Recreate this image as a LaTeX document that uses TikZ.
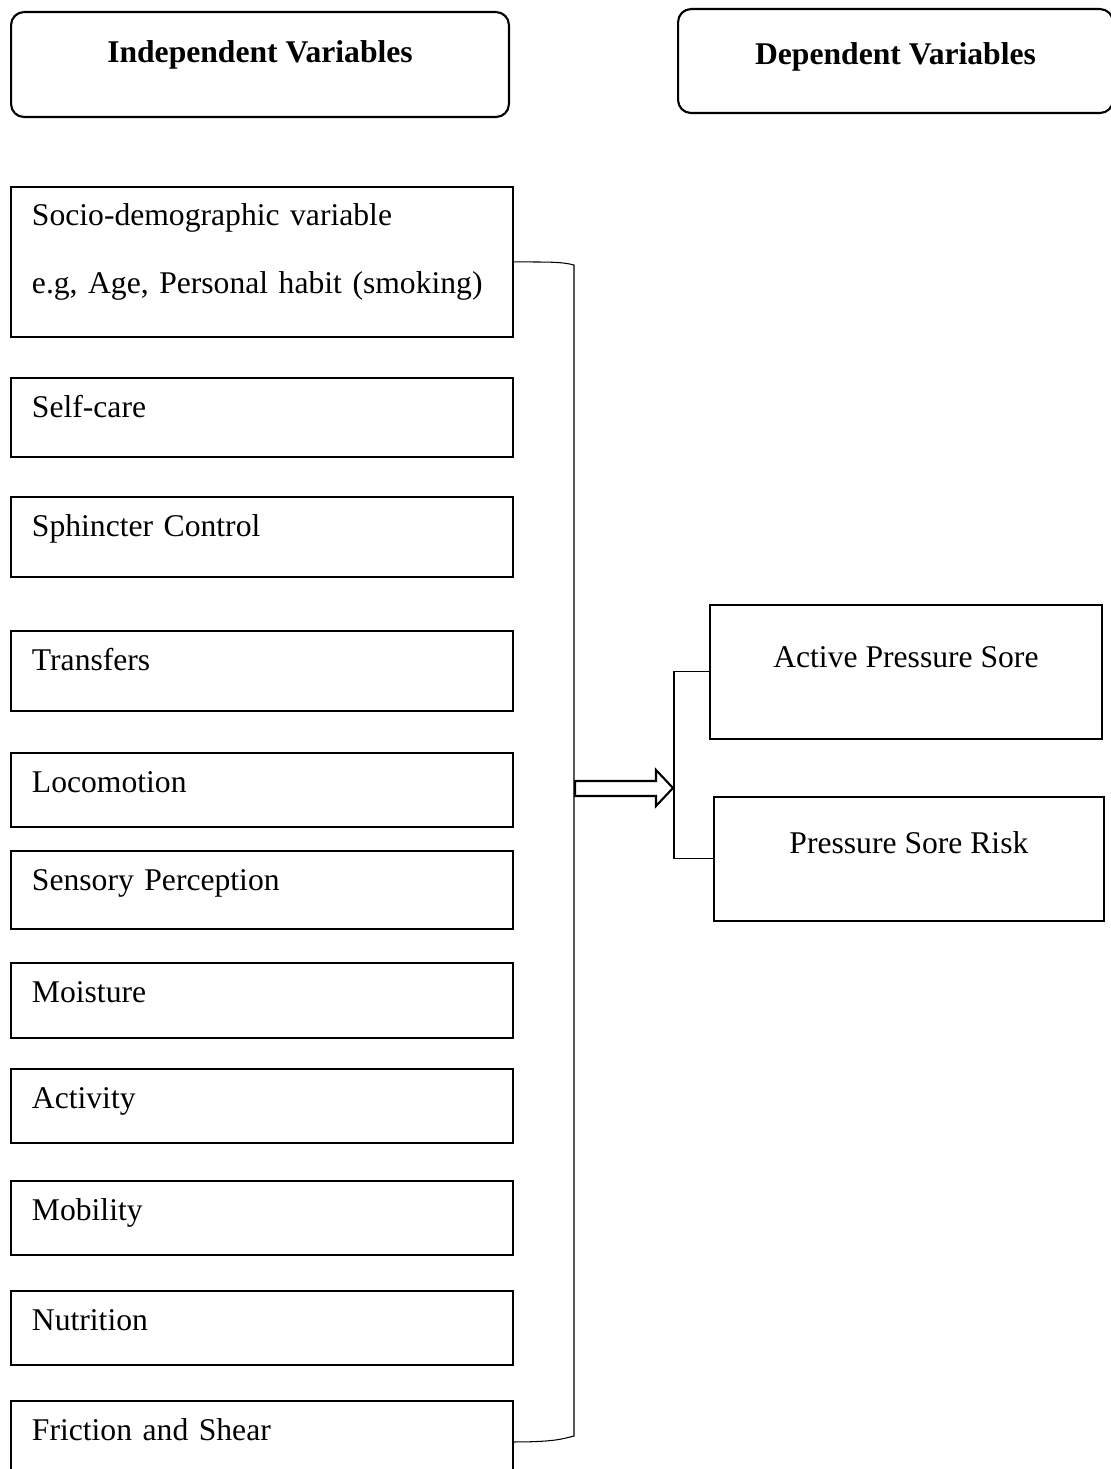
\documentclass[tikz,border=0pt]{standalone}
\usepackage{fontspec}
\setmainfont{Liberation Serif}
\usetikzlibrary{calc,positioning}

\tikzset{
  headbox/.style n args={3}{draw, line width=1.2pt, rounded corners=0.26cm, anchor=north west,
    font=\fontsize{18pt}{22pt}\selectfont\bfseries, inner sep=0pt,
    text height=#1, text depth=#2, minimum width=#3},
  varbox/.style={draw, line width=1.1pt, anchor=north west, align=left,
    text width=9.2cm, inner xsep=0.42cm, inner ysep=0pt, text height=0.8cm, text depth=#1},
  depbox/.style n args={3}{draw, line width=1.1pt, anchor=north west, inner sep=0pt,
    text height=#1, text depth=#2, minimum width=#3},
  bracket/.style={line width=0.6pt},
  blockarrow/.style={line width=1.2pt, fill=white, line join=miter}
}

\begin{document}
\begin{tikzpicture}[x=0.02cm, y=-0.02cm, font=\fontsize{18pt}{22pt}\selectfont]
    \useasboundingbox (0,0) rectangle (1111,1469);

    \node[headbox={1.0cm}{1.1cm}{9.96cm}] (indep) at (10,11) {Independent Variables};
    \node[headbox={1.1cm}{0.98cm}{8.7cm}] (dep) at (677,8) {Dependent Variables};

    % independent variables
    \node[varbox=2.22cm, text height=0.78cm, font=\fontsize{18pt}{38.6pt}\selectfont] (socio) at (10,186)
        {Socio-demographic variable\\e.g, Age, Personal habit (smoking)};
    \node[varbox=0.78cm] (selfcare) at (10,377) {Self-care};
    \node[varbox=0.8cm] (sphincter) at (10,496) {Sphincter Control};
    \node[varbox=0.8cm] (transfers) at (10,630) {Transfers};
    \node[varbox=0.68cm] (locomotion) at (10,752) {Locomotion};
    \node[varbox=0.76cm] (sensory) at (10,850) {Sensory Perception};
    \node[varbox=0.7cm] (moisture) at (10,962) {Moisture};
    \node[varbox=0.68cm] (activity) at (10,1068) {Activity};
    \node[varbox=0.68cm] (mobility) at (10,1180) {Mobility};
    \node[varbox=0.68cm] (nutrition) at (10,1290) {Nutrition};
    \node[varbox=0.84cm] (friction) at (10,1400) {Friction and Shear};

    % dependent variables
    \node[depbox={1.26cm}{1.42cm}{7.84cm}] (active) at (709,604) {Active Pressure Sore};
    \node[depbox={1.14cm}{1.34cm}{7.8cm}] (risk) at (713,796) {Pressure Sore Risk};

    \coordinate (brtop) at (574,265);
    \coordinate (brbot) at (574,1436);
    \coordinate (brmid) at (574,788);
    \coordinate (join) at (674,788);

    \draw[bracket] (socio.east) .. controls +(40,0) and +(-12,-3) .. (brtop)
        -- (brbot) .. controls +(-12,3) and +(40,0) .. (friction.east);
    \draw[bracket] (active.west) -| (join) |- (risk.west);

    \draw[blockarrow] ($(brmid)+(1,-7)$) -- ($(brmid)+(82,-7)$) -- ($(brmid)+(82,-18)$)
        -- ($(join)+(-1,0)$) -- ($(brmid)+(82,18)$) -- ($(brmid)+(82,8)$) -- ($(brmid)+(1,8)$) -- cycle;
\end{tikzpicture}
\end{document}
